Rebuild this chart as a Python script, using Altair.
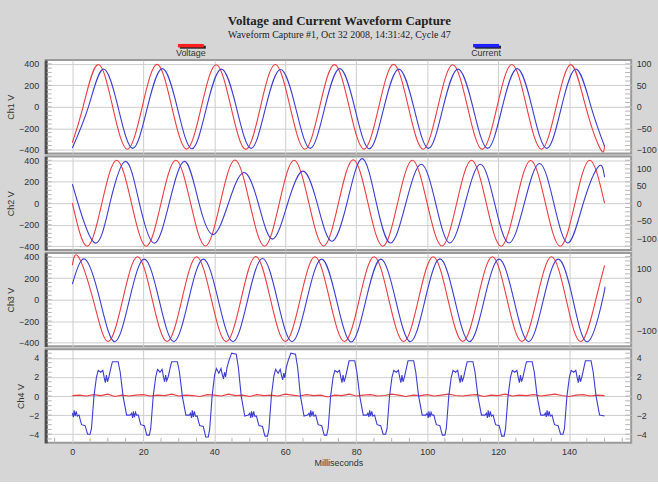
import altair as alt
import pandas as pd

# ---------------- data (time in ms, voltage in V, current in A) ----------------
ch1_voltage = [(0, -335), (3.03, 0), (7.2, 393), (11.37, 0), (15.53, -395), (19.7, 0), (23.87, 395),
               (28.03, 0), (32.2, -394), (36.37, 0), (40.53, 392), (44.7, 0), (48.87, -396), (53.03, 0),
               (57.2, 394), (61.37, 0), (65.53, -395), (69.7, 0), (73.87, 393), (78.03, 0), (82.2, -394),
               (86.37, 0), (90.53, 395), (94.7, 0), (98.87, -395), (103.03, 0), (107.2, 392), (111.37, 0),
               (115.53, -396), (119.7, 0), (123.87, 394), (128.03, 0), (132.2, -395), (136.37, 0),
               (140.53, 393), (144.7, 0), (148.87, -395), (150, -360)]
ch1_current = [(0, -96), (4.53, 0), (8.7, 88), (12.87, 0), (17.03, -97), (21.2, 0), (25.37, 89),
               (29.53, 0), (33.7, -98), (37.87, 0), (42.03, 88), (46.2, 0), (50.37, -97), (54.53, 0),
               (58.7, 87), (62.87, 0), (67.03, -97), (71.2, 0), (75.37, 89), (79.53, 0), (83.7, -98),
               (87.87, 0), (92.03, 88), (96.2, 0), (100.37, -97), (104.53, 0), (108.7, 88), (112.87, 0),
               (117.03, -97), (121.2, 0), (125.37, 89), (129.53, 0), (133.7, -97), (137.87, 0),
               (142.03, 88), (146.2, 0), (150, -92)]

ch2_voltage = [(0, 0), (4.17, -400), (8.33, 0), (12.5, 400), (16.67, 0), (20.83, -400), (25.0, 0),
               (29.17, 400), (33.33, 0), (37.5, -398), (41.67, 0), (45.83, 402), (50.0, 0), (54.17, -400),
               (58.33, 0), (62.5, 400), (66.67, 0), (70.83, -398), (75.0, 0), (79.17, 405), (83.33, 0),
               (87.5, -400), (91.67, 0), (95.83, 400), (100.0, 0), (104.17, -398), (108.33, 0),
               (112.5, 400), (116.67, 0), (120.83, -400), (125.0, 0), (129.17, 398), (133.33, 0),
               (137.5, -400), (141.67, 0), (145.83, 400), (150.0, 0)]
ch2_current = [(0, 55), (1.6, 0), (6.4, -114), (10.6, 0), (15.0, 120), (18.9, 0), (23.07, -115),
               (27.3, 0), (31.67, 120), (35.7, 0), (39.73, -90), (44.0, 0), (48.33, 88), (52.4, 0),
               (56.4, -103), (60.7, 0), (65.0, 92), (69.0, 0), (73.07, -109), (77.4, 0), (81.67, 128),
               (85.7, 0), (89.73, -114), (94.0, 0), (98.33, 112), (102.4, 0), (106.4, -114), (110.7, 0),
               (115.0, 112), (119.0, 0), (123.07, -114), (127.4, 0), (131.67, 114), (135.7, 0),
               (139.73, -114), (144.0, 0), (148.33, 106), (150, 75)]

ch3_voltage = [(0, 320), (1.7, 400), (5.87, 0), (10.03, -390), (14.2, 0), (18.37, 400), (22.53, 0),
               (26.7, -390), (30.87, 0), (35.03, 400), (39.2, 0), (43.37, -392), (47.53, 0), (51.7, 402),
               (55.87, 0), (60.03, -390), (64.2, 0), (68.37, 400), (72.53, 0), (76.7, -390), (80.87, 0),
               (85.03, 400), (89.2, 0), (93.37, -392), (97.53, 0), (101.7, 400), (105.87, 0),
               (110.03, -390), (114.2, 0), (118.37, 400), (122.53, 0), (126.7, -390), (130.87, 0),
               (135.03, 400), (139.2, 0), (143.37, -390), (147.53, 0), (150, 320)]
ch3_current = [(0, 50), (3.6, 130), (7.77, 0), (11.93, -135), (16.1, 0), (20.27, 130), (24.43, 0),
               (28.6, -135), (32.77, 0), (36.93, 130), (41.1, 0), (45.27, -135), (49.43, 0), (53.6, 132),
               (57.77, 0), (61.93, -135), (66.1, 0), (70.27, 130), (74.43, 0), (78.6, -136), (82.77, 0),
               (86.93, 130), (91.1, 0), (95.27, -135), (99.43, 0), (103.6, 131), (107.77, 0),
               (111.93, -135), (116.1, 0), (120.27, 130), (124.43, 0), (128.6, -135), (132.77, 0),
               (136.93, 130), (141.1, 0), (145.27, -135), (149.43, 0), (150, 40)]

ch4_current = [
    (0.0, -1.8), (0.3, -2.2), (0.5, -1.5), (0.8, -2.1), (1.1, -1.6), (1.4, -2.1), (1.9, -2.0), (2.3, -2.6),
    (2.6, -3.0), (3.6, -3.1), (4.0, -3.6), (4.3, -4.0), (5.0, -4.0), (5.4, -3.4), (6.1, 0.0), (6.8, 2.0),
    (7.3, 2.7), (8.0, 2.5), (8.6, 2.7), (9.0, 1.9), (9.3, 1.4), (9.6, 2.2), (9.9, 1.5), (10.3, 2.0),
    (10.9, 3.0), (11.3, 3.6), (12.9, 3.6), (13.5, 2.5), (14.3, 0.0), (15.3, -2.0), (16.3, -2.0),
    (16.7, -1.8), (17.0, -2.3), (17.2, -1.6), (17.5, -2.2), (17.8, -1.7), (18.1, -2.0), (18.6, -2.0),
    (19.0, -2.6), (19.3, -3.0), (20.3, -3.1), (20.7, -3.7), (21.0, -4.1), (21.7, -4.1), (22.1, -3.4),
    (22.8, 0.0), (23.5, 2.0), (24.0, 2.8), (24.7, 2.5), (25.3, 2.8), (25.7, 2.0), (26.0, 1.5), (26.3, 2.2),
    (26.6, 1.6), (27.0, 2.0), (27.6, 3.0), (28.0, 3.6), (29.6, 3.6), (30.2, 2.5), (31.0, 0.0), (32.0, -2.0),
    (33.0, -2.0),
    (33.3, -1.8), (33.6, -2.3), (33.8, -1.5), (34.1, -2.2), (34.4, -1.6), (34.7, -2.1), (35.2, -2.1),
    (35.6, -2.7), (35.9, -3.1), (36.9, -3.2), (37.3, -3.8), (37.6, -4.3), (38.3, -4.3), (38.7, -3.5),
    (39.4, 0.0), (40.1, 2.2), (40.6, 2.9), (41.3, 2.4), (41.9, 2.9), (42.3, 2.2), (42.6, 1.8), (42.9, 2.5),
    (43.2, 2.0), (43.6, 3.0), (44.2, 3.8), (44.9, 4.5), (46.2, 4.4), (46.8, 3.0), (47.6, 0.0),
    (48.6, -2.1), (49.6, -2.0),
    (50.0, -1.8), (50.3, -2.3), (50.5, -1.6), (50.8, -2.2), (51.1, -1.6), (51.4, -2.1), (51.9, -2.1),
    (52.3, -2.7), (52.6, -3.1), (53.6, -3.2), (54.0, -3.8), (54.3, -4.2), (55.0, -4.2), (55.4, -3.5),
    (56.1, 0.0), (56.8, 2.1), (57.3, 2.8), (58.0, 2.4), (58.6, 2.8), (59.0, 2.1), (59.3, 1.7), (59.6, 2.4),
    (59.9, 1.9), (60.3, 3.0), (60.9, 3.8), (61.6, 4.5), (62.9, 4.4), (63.5, 3.0), (64.3, 0.0),
    (65.3, -2.1), (66.3, -2.0),
    (66.7, -1.8), (67.0, -2.2), (67.2, -1.5), (67.5, -2.1), (67.8, -1.6), (68.1, -2.1), (68.6, -2.0),
    (69.0, -2.6), (69.3, -3.0), (70.3, -3.1), (70.7, -3.7), (71.0, -4.1), (71.7, -4.1), (72.1, -3.4),
    (72.8, 0.0), (73.5, 2.0), (74.0, 2.7), (74.7, 2.5), (75.3, 2.7), (75.7, 1.9), (76.0, 1.4), (76.3, 2.2),
    (76.6, 1.5), (77.0, 2.0), (77.6, 3.0), (78.0, 3.7), (79.6, 3.7), (80.2, 2.5), (81.0, 0.0),
    (82.0, -2.0), (83.0, -2.0),
    (83.3, -1.8), (83.6, -2.2), (83.8, -1.5), (84.1, -2.1), (84.4, -1.6), (84.7, -2.1), (85.2, -2.0),
    (85.6, -2.6), (85.9, -3.0), (86.9, -3.1), (87.3, -3.6), (87.6, -4.0), (88.3, -4.0), (88.7, -3.4),
    (89.4, 0.0), (90.1, 2.0), (90.6, 2.7), (91.3, 2.5), (91.9, 2.7), (92.3, 1.9), (92.6, 1.4), (92.9, 2.2),
    (93.2, 1.5), (93.6, 2.0), (94.2, 3.0), (94.6, 3.7), (96.2, 3.7), (96.8, 2.5), (97.6, 0.0),
    (98.6, -2.0), (99.6, -2.0),
    (100.0, -1.8), (100.3, -2.3), (100.5, -1.6), (100.8, -2.2), (101.1, -1.7), (101.4, -2.0),
    (101.9, -2.0), (102.3, -2.6), (102.6, -3.0), (103.6, -3.1), (104.0, -3.7), (104.3, -4.1),
    (105.0, -4.1), (105.4, -3.4), (106.1, 0.0), (106.8, 2.0), (107.3, 2.7), (108.0, 2.5), (108.6, 2.7),
    (109.0, 1.9), (109.3, 1.4), (109.6, 2.2), (109.9, 1.5), (110.3, 2.0), (110.9, 3.0), (111.3, 3.6),
    (112.9, 3.6), (113.5, 2.5), (114.3, 0.0), (115.3, -2.0), (116.3, -2.0),
    (116.7, -1.8), (117.0, -2.3), (117.2, -1.5), (117.5, -2.2), (117.8, -1.6), (118.1, -2.1),
    (118.6, -2.0), (119.0, -2.6), (119.3, -3.0), (120.3, -3.1), (120.7, -3.7), (121.0, -4.2),
    (121.7, -4.2), (122.1, -3.4), (122.8, 0.0), (123.5, 2.0), (124.0, 2.7), (124.7, 2.5), (125.3, 2.7),
    (125.7, 1.9), (126.0, 1.4), (126.3, 2.2), (126.6, 1.5), (127.0, 2.0), (127.6, 3.0), (128.0, 3.6),
    (129.6, 3.6), (130.2, 2.5), (131.0, 0.0), (132.0, -2.0), (133.0, -2.0),
    (133.3, -1.8), (133.6, -2.2), (133.8, -1.5), (134.1, -2.1), (134.4, -1.6), (134.7, -2.1),
    (135.2, -2.0), (135.6, -2.6), (135.9, -3.0), (136.9, -3.1), (137.3, -3.6), (137.6, -4.0),
    (138.3, -4.0), (138.7, -3.4), (139.4, 0.0), (140.1, 2.0), (140.6, 2.7), (141.3, 2.5), (141.9, 2.7),
    (142.3, 1.9), (142.6, 1.4), (142.9, 2.2), (143.2, 1.5), (143.6, 2.0), (144.2, 3.0), (144.6, 3.7),
    (146.2, 3.7), (146.8, 2.5), (147.6, 0.0), (148.6, -2.0), (150.0, -2.1)]

ch4_voltage = [(0, 0.05), (2, 0.1), (4, 0.0), (6, 0.15), (8, 0.05), (10, 0.2), (12, -0.05), (14, 0.1),
               (16, 0.0), (18, 0.1), (20, 0.15), (22, 0.0), (24, 0.1), (26, 0.05), (28, 0.2), (30, 0.0),
               (32, 0.1), (34, 0.05), (36, -0.05), (38, 0.15), (40, 0.1), (42, 0.0), (44, 0.2), (46, 0.05),
               (48, 0.1), (50, -0.05), (52, 0.15), (54, 0.05), (56, 0.1), (58, 0.0), (60, 0.2), (62, 0.1),
               (64, 0.0), (66, 0.15), (68, 0.05), (70, 0.1), (72, -0.1), (74, 0.1), (76, 0.05), (78, 0.2),
               (80, 0.0), (82, 0.1), (84, 0.15), (86, 0.0), (88, 0.05), (90, 0.2), (92, 0.1), (94, -0.05),
               (96, 0.1), (98, 0.05), (100, 0.15), (102, 0.0), (104, 0.1), (106, 0.2), (108, 0.05),
               (110, 0.0), (112, 0.1), (114, 0.15), (116, -0.05), (118, 0.1), (120, 0.05), (122, 0.2),
               (124, 0.0), (126, 0.1), (128, 0.05), (130, 0.15), (132, 0.0), (134, 0.1), (136, 0.2),
               (138, 0.05), (140, -0.05), (142, 0.1), (144, 0.15), (146, 0.0), (148, 0.1), (150, 0.05)]

x_ticks = [0, 20, 40, 60, 80, 100, 120, 140]
x_minor_ticks = [-5, 5, 10, 15, 25, 30, 35, 45, 50, 55, 65, 70, 75, 85, 90, 95, 105, 110, 115,
                 125, 130, 135, 145, 150, 155]
volt_ticks = [-400, -200, 0, 200, 400]
volt_minor_ticks = [-400, -360, -320, -280, -240, -200, -160, -120, -80, -40, 0, 40, 80, 120, 160,
                    200, 240, 280, 320, 360, 400]
ch1_amp_ticks = [-100, -50, 0, 50, 100]
ch2_amp_ticks = [-100, -50, 0, 50, 100]
ch3_amp_ticks = [-100, 0, 100]
ch4_ticks = [-4, -2, 0, 2, 4]
ch4_minor_ticks = [-4.5, -4, -3.5, -3, -2.5, -2, -1.5, -1, -0.5, 0, 0.5, 1, 1.5, 2, 2.5, 3, 3.5, 4, 4.5]
legend_names = ["Voltage", "Current"]

# ---------------- style ----------------
RED = "#ec3c40"
BLUE = "#3c3cd4"
SW_RED = "#ff1f1f"
SW_BLUE = "#1f1fff"
GRID = "#cdcdcd"
MINOR = "#b4b4b4"
BG = "#d6d6d6"
TXT = "#333333"
FONT = "Liberation Sans"
W = 589
H = 94
X_DOMAIN = [-7.5, 157.5]
V_DOMAIN = [-435, 435]
FS = 9


def frame(pairs):
    return pd.DataFrame(pairs, columns=["t", "v"])


def panel(vpairs, ipairs, ytitle, ldom, lvals, minor_vals, rdom, rvals, bottom, interp):
    if bottom:
        xaxis = alt.Axis(values=x_ticks, grid=True, gridColor=GRID, ticks=False, domain=False,
                         labelFont=FONT, labelFontSize=FS, labelColor=TXT, labelPadding=5,
                         title="Milliseconds", titleFont=FONT, titleFontSize=FS,
                         titleFontWeight="normal", titleColor=TXT, titlePadding=2)
    else:
        xaxis = alt.Axis(values=x_ticks, grid=True, gridColor=GRID, ticks=False, domain=False,
                         labels=False, title=None)
    xscale = alt.Scale(domain=X_DOMAIN, nice=False, zero=False)
    x = alt.X("t:Q", scale=xscale, axis=xaxis)
    lscale = alt.Scale(domain=ldom, nice=False, zero=False)
    laxis = alt.Axis(values=lvals, title=ytitle, grid=True, gridColor=GRID, ticks=False,
                     domainColor="#4d4d4d", domainWidth=3, labelFont=FONT, labelFontSize=FS,
                     labelColor=TXT, labelPadding=7, titleFont=FONT, titleFontSize=FS,
                     titleFontWeight="normal", titleColor=TXT, titlePadding=3)
    y = alt.Y("v:Q", scale=lscale, axis=laxis)
    volt = alt.Chart(frame(vpairs)).mark_line(color=RED, strokeWidth=1.1, interpolate=interp).encode(
        x=x, y=y)
    minor_df = pd.DataFrame({"v": minor_vals})
    tick_l = alt.Chart(minor_df).mark_rule(color=MINOR, strokeWidth=1).encode(
        y=y, x=alt.value(1), x2=alt.value(6))
    tick_r = alt.Chart(minor_df).mark_rule(color=MINOR, strokeWidth=1).encode(
        y=y, x=alt.value(W - 6), x2=alt.value(W))
    left_layers = [volt, tick_l, tick_r]
    if bottom:
        bdf = pd.DataFrame({"t": x_minor_ticks})
        tick_b = alt.Chart(bdf).mark_rule(color=MINOR, strokeWidth=1).encode(
            x=x, y=alt.value(H - 5), y2=alt.value(H))
        left_layers = left_layers + [tick_b]
    left = alt.layer(*left_layers)
    cur = alt.Chart(frame(ipairs)).mark_line(color=BLUE, strokeWidth=1.1, interpolate=interp).encode(
        x=x,
        y=alt.Y("v:Q", scale=alt.Scale(domain=rdom, nice=False, zero=False),
                axis=alt.Axis(orient="right", values=rvals, title=None, grid=False, ticks=False,
                              domain=False, labelFont=FONT, labelFontSize=FS, labelColor=TXT,
                              labelPadding=5)),
    )
    return alt.layer(left, cur).resolve_scale(y="independent").properties(width=W, height=H)


p1 = panel(ch1_voltage, ch1_current, "Ch1 V", V_DOMAIN, volt_ticks, volt_minor_ticks, [-109, 109], ch1_amp_ticks, False, "natural")
p2 = panel(ch2_voltage, ch2_current, "Ch2 V", V_DOMAIN, volt_ticks, volt_minor_ticks, [-134, 134], ch2_amp_ticks, False, "natural")
p3 = panel(ch3_voltage, ch3_current, "Ch3 V", V_DOMAIN, volt_ticks, volt_minor_ticks, [-150, 150], ch3_amp_ticks, False, "natural")
p4 = panel(ch4_voltage, ch4_current, "Ch4 V", [-4.9, 4.9], ch4_ticks, ch4_minor_ticks, [-4.9, 4.9], ch4_ticks, True, "linear")

# legend strip (swatch above label)
one = pd.DataFrame({"k": [0]})
leg_layers = []
for name, color, cx in zip(legend_names, [SW_RED, SW_BLUE], [146, 443]):
    shadow = alt.Chart(one).mark_rule(color="#202020", strokeWidth=3).encode(
        x=alt.value(cx - 11), x2=alt.value(cx + 15), y=alt.value(6))
    sw = alt.Chart(one).mark_rule(color=color, strokeWidth=3.5).encode(
        x=alt.value(cx - 13), x2=alt.value(cx + 13), y=alt.value(4.5))
    lab = alt.Chart(one).mark_text(text=name, font=FONT, fontSize=FS, color=TXT, align="center",
                                   baseline="alphabetic").encode(x=alt.value(cx), y=alt.value(15))
    leg_layers += [shadow, sw, lab]
legend = alt.layer(*leg_layers).properties(width=W, height=16,
                                             view=alt.ViewBackground(stroke="transparent", fill=BG))

chart = alt.vconcat(legend, p1, p2, p3, p4, spacing=3, bounds="flush").properties(
    title=alt.TitleParams(
        text="Voltage and Current Waveform Capture",
        subtitle="Waveform Capture #1, Oct 32 2008, 14:31:42,  Cycle 47",
        font="Liberation Serif", fontSize=13, fontWeight="bold", color="#222222",
        subtitleFont="Liberation Serif", subtitleFontSize=10, subtitleColor="#222222",
        subtitlePadding=2, anchor="middle", offset=0, dx=8),
).configure(
    background=BG,
    padding={"left": 5, "right": 0, "top": 14, "bottom": 12},
).configure_view(
    fill="white", stroke="#9a9a9a", strokeWidth=2,
)

chart.save("out.html", embed_options={"renderer": "svg", "actions": False})
